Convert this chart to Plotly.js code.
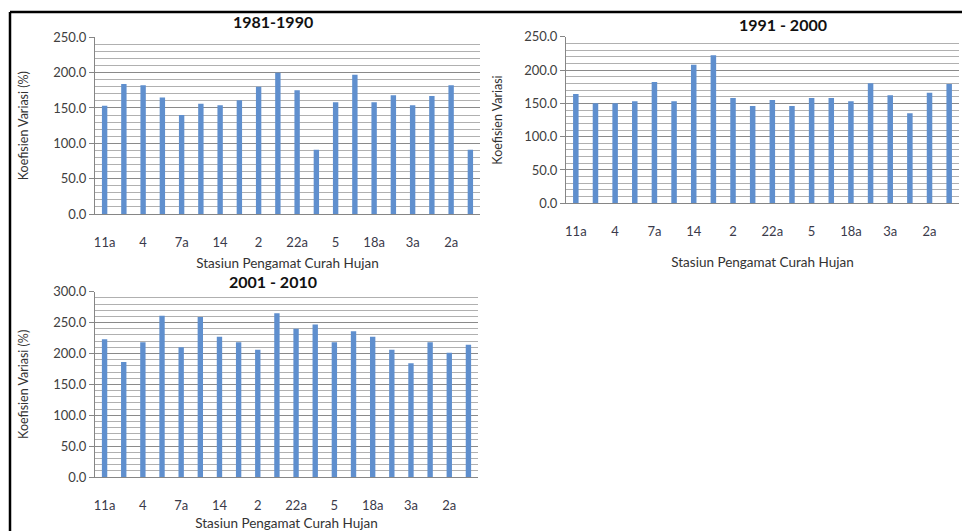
<!DOCTYPE html>
<html>
<head>
<meta charset="utf-8">
<script src="https://cdn.plot.ly/plotly-3.0.1.min.js"></script>
<style>html,body{margin:0;padding:0;background:#fff;}#chart{width:962px;height:531px;}</style>
</head>
<body>
<div id="chart"></div>
<script>
// Station index (20 stations per period); only every other station is labelled in the source
const stationIdx = [1,2,3,4,5,6,7,8,9,10,11,12,13,14,15,16,17,18,19,20];
const tickIdx = [1,3,5,7,9,11,13,15,17,19];
const tickLabels = ['11a','4','7a','14','2','22a','5','18a','3a','2a'];

const cv1981 = [153,184,182,165,140,156,154,161,180,200,175,91,158,197,158,168,154,167,182,91];
const cv1991 = [164,150,150,153,182,153,208,222,158,146,155,146,158,158,153,180,162,135,166,179];
const cv2001 = [223,186,218,261,210,259,227,218,206,265,240,247,218,236,227,206,184,218,201,214];

const titles = ['1981-1990','1991 - 2000','2001 - 2010'];
const yTitles = ['Koefisien Variasi (%)','Koefisien Variasi','Koefisien Variasi (%)'];
const xTitle = 'Stasiun Pengamat Curah Hujan';

const FONT = 'Lato, "Open Sans", sans-serif';
const barColor = '#5f8fce';

function bars(y, xa, ya){
  return {type:'bar', x:stationIdx, y:y, xaxis:xa, yaxis:ya, width:0.28,
          marker:{color:barColor}, hoverinfo:'y', showlegend:false};
}

function xAxis(domain, anchor, titleStandoff){
  return {domain:domain, anchor:anchor, range:[0.5,20.5], tickmode:'array',
          tickvals:tickIdx, ticktext:tickLabels, showgrid:false, zeroline:false,
          showline:true, linecolor:'#868686', linewidth:1, ticks:'',
          ticklabelstandoff:16, tickfont:{family:FONT,size:13,color:'#3a3a4a'},
          title:{text:xTitle, font:{family:FONT,size:13.5,color:'#333'}, standoff:titleStandoff},
          fixedrange:true};
}
function yAxis(domain, anchor, max, title, titleStandoff){
  return {domain:domain, anchor:anchor, range:[0,max], dtick:50, tickformat:'.1f',
          showgrid:true, gridcolor:'#8a8a8a', gridwidth:1,
          minor:{dtick:10, showgrid:true, gridcolor:'#b0b0b0', gridwidth:1},
          zeroline:false, showline:true, linecolor:'#868686', linewidth:1,
          ticks:'outside', ticklen:5, tickcolor:'#868686',
          tickfont:{family:FONT,size:13,color:'#404040'},
          title:{text:title, font:{family:FONT,size:12.5,color:'#333'}, standoff:titleStandoff},
          fixedrange:true};
}

const data = [bars(cv1981,'x','y'), bars(cv1991,'x2','y2'), bars(cv2001,'x3','y3')];

const layout = {
  width:962, height:531, margin:{l:0,r:0,t:0,b:0},
  paper_bgcolor:'#ffffff', plot_bgcolor:'rgba(0,0,0,0)',
  xaxis: xAxis([95/962, 480/962], 'y', 9),
  yaxis: yAxis([1-214/531, 1-37.3/531], 'x', 250, yTitles[0], 21),
  xaxis2: xAxis([566/962, 959/962], 'y2', 19),
  yaxis2: yAxis([1-203.3/531, 1-36.7/531], 'x2', 250, yTitles[1], 18),
  xaxis3: xAxis([95/962, 478/962], 'y3', 8),
  yaxis3: yAxis([1-477/531, 1-291.7/531], 'x3', 300, yTitles[2], 21),
  annotations: [
    {text:'<b>'+titles[0]+'</b>', xref:'paper', yref:'paper', x:273/962, y:1-22/531, showarrow:false, xanchor:'center', yanchor:'middle', font:{family:FONT,size:16,color:'#111'}},
    {text:'<b>'+titles[1]+'</b>', xref:'paper', yref:'paper', x:783/962, y:1-24/531, showarrow:false, xanchor:'center', yanchor:'middle', font:{family:FONT,size:16,color:'#111'}},
    {text:'<b>'+titles[2]+'</b>', xref:'paper', yref:'paper', x:273/962, y:1-281/531, showarrow:false, xanchor:'center', yanchor:'middle', font:{family:FONT,size:16,color:'#111'}}
  ],
  shapes: [
    {type:'line', xref:'paper', yref:'paper', x0:10/962, x1:1, y0:1-12/531, y1:1-12/531, line:{color:'#000',width:2.5}},
    {type:'line', xref:'paper', yref:'paper', x0:10/962, x1:10/962, y0:1-12/531, y1:0, line:{color:'#000',width:2.5}}
  ]
};

Plotly.newPlot('chart', data, layout, {displayModeBar:false, staticPlot:true});
</script>
</body>
</html>
